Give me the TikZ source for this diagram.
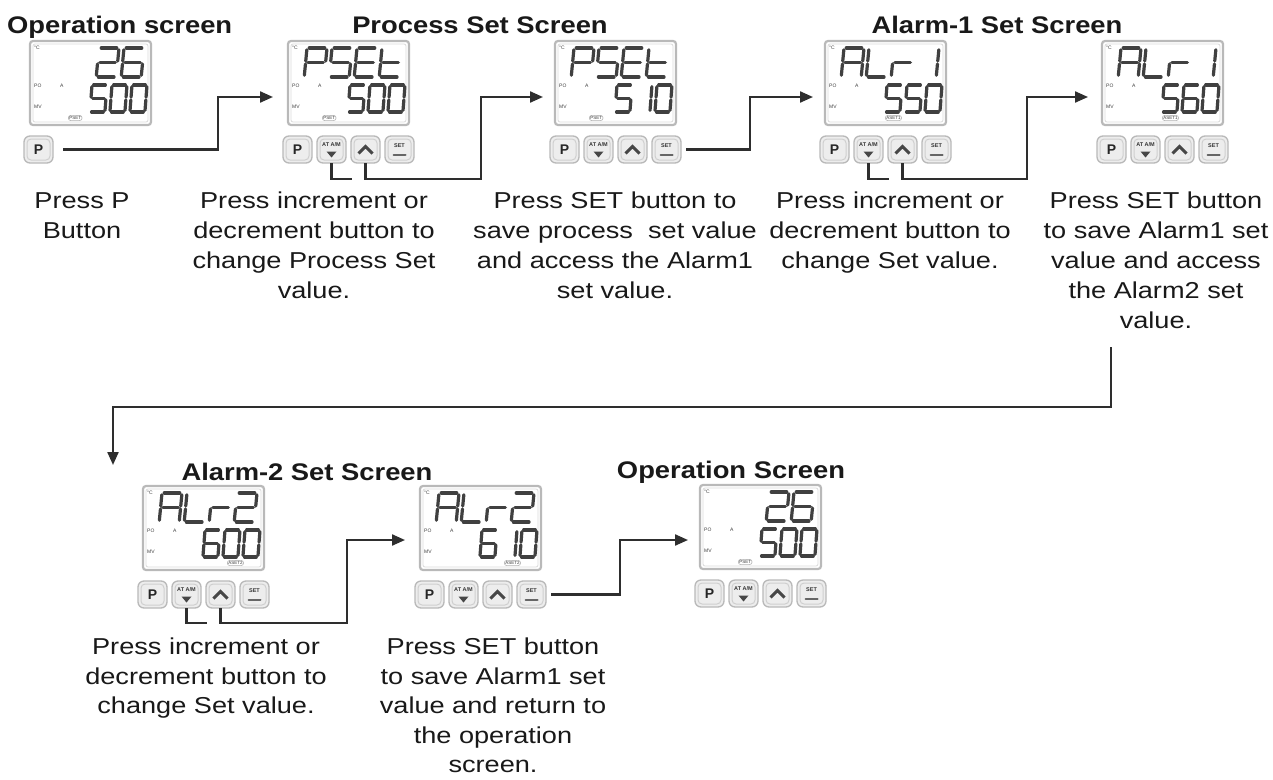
\documentclass[tikz,border=0pt]{standalone}
\usepackage{fontspec}
\setmainfont{Liberation Sans}
\newfontfamily\bodyf[FakeStretch=1.18]{Liberation Sans}
\newfontfamily\titlef[FakeStretch=1.14]{Liberation Sans}
\usetikzlibrary{arrows.meta,calc}

% seven-segment pieces (unit cell, y downward)
\def\sga{(0.11,0)--(0.89,0)}
\def\sgb{(1,0.06)--(1,0.45)}
\def\sgc{(1,0.55)--(1,0.94)}
\def\sgd{(0.11,1)--(0.89,1)}
\def\sge{(0,0.55)--(0,0.94)}
\def\sgf{(0,0.06)--(0,0.45)}
\def\sgg{(0.11,0.5)--(0.89,0.5)}
\def\sgx{(0,0)}
% characters
\def\Dnone{x}
\def\Dzero{a,b,c,d,e,f}
\def\Done{b,c}
\def\Dtwo{a,b,g,e,d}
\def\Dfive{a,f,g,c,d}
\def\Dsix{a,f,g,e,d,c}
\def\DP{a,b,f,g,e}
\def\DE{a,f,g,e,d}
\def\Dt{f,g,e,d}
\def\DA{a,b,c,e,f,g}
\def\DL{f,e,d}
\def\Dr{e,g}

\tikzset{
  lcd/.style={draw=gray!55, line width=2.2pt, rounded corners=3pt, fill=white,
    minimum width=121pt, minimum height=84pt, inner sep=0pt, outer sep=0pt},
  lcdin/.style={draw=gray!28, line width=0.8pt, rounded corners=2pt},
  seg/.style={draw=black!75, line width=3.2pt, line cap=round},
  tinyl/.style={font=\fontsize{5}{5}\selectfont, inner sep=0pt, text=black!75},
  tagbox/.style={draw=gray!60, line width=0.6pt, rounded corners=2.5pt, font=\fontsize{4.5}{4.5}\selectfont, inner sep=1pt, text=black!75},
  btn/.style={draw=gray!55, line width=1.3pt, rounded corners=6pt, fill=gray!14,
    minimum width=29pt, minimum height=27pt, inner sep=0pt, outer sep=0pt},
  btnin/.style={draw=gray!38, line width=1pt, rounded corners=4pt},
  plab/.style={font=\bfseries\fontsize{14}{14}\selectfont, inner sep=0pt, text=black!85},
  blab/.style={font=\bfseries\fontsize{5.5}{5.5}\selectfont, inner sep=0pt, text=black!80},
  trimark/.style={fill=black!72},
  chev/.style={draw=black!72, line width=3pt},
  setbar/.style={draw=black!60, line width=2pt, line cap=round},
  conn/.style={draw=black!82, line width=2.2pt},
  arr/.style={conn, -{Triangle[length=13pt,width=11pt]}},
  title/.style={font=\titlef\bfseries\fontsize{24}{28}\selectfont, inner sep=0pt, text=black!90},
  desc/.style={font=\bodyf\fontsize{23}{30}\selectfont, align=center, inner sep=0pt, anchor=north, text=black!90},
  descb/.style={font=\bodyf\fontsize{23}{29.5}\selectfont, align=center, inner sep=0pt, anchor=north, text=black!90},
}

\newcommand\sdigit[5]{%
  \begin{scope}[shift={(#1,#2)},xscale=#3,yscale=#4,xslant=0.14]
    \foreach \s in #5 {\edef\tmp{\noexpand\draw[seg] \csname sg\s\endcsname;}\tmp}
  \end{scope}}

\newcommand\lcdbox[5]{% name, x, y, tag x, tag
  \node[lcd, anchor=north west] (#1) at (#2,#3) {};
  \draw[lcdin] ($(#1.north west)+(3,3)$) rectangle ($(#1.south east)+(-3,-3)$);
  \node[tinyl, anchor=north west] (#1c) at ($(#1.north west)+(4,5)$) {°C};
  \node[tinyl, anchor=west] (#1po) at ($(#1.north west)+(4,45)$) {PO};
  \node[tinyl, anchor=west] (#1a) at ($(#1.north west)+(30,45)$) {A};
  \node[tinyl, anchor=west] (#1mv) at ($(#1.north west)+(4,66)$) {MV};
  \node[tagbox, anchor=west] (#1tag) at ($(#1.north west)+(#4,77)$) {#5};
}

\newcommand\topd[5]{%
  \begin{scope}[shift={(#1.north west)}]
    \sdigit{19}{7}{20}{29}{#2}
    \sdigit{44}{7}{20}{29}{#3}
    \sdigit{69}{7}{20}{29}{#4}
    \sdigit{94}{7}{20}{29}{#5}
  \end{scope}}

\newcommand\botd[4]{%
  \begin{scope}[shift={(#1.north west)}]
    \sdigit{62}{44}{15}{27}{#2}
    \sdigit{82}{44}{15}{27}{#3}
    \sdigit{102}{44}{15}{27}{#4}
  \end{scope}}

\newcommand\pbutton[2]{% name, position
  \node[btn, anchor=north west] (#1) at #2 {};
  \draw[btnin] ($(#1.north west)+(3,3)$) rectangle ($(#1.south east)+(-3,-3)$);
  \node[plab] (#1l) at (#1) {P};
}

\newcommand\btnrow[1]{%
  \pbutton{#1p}{($(#1.north west)+(-5,95)$)}
  \node[btn, anchor=north west] (#1at) at ($(#1.north west)+(29,95)$) {};
  \node[btn, anchor=north west] (#1up) at ($(#1.north west)+(63,95)$) {};
  \node[btn, anchor=north west] (#1set) at ($(#1.north west)+(97,95)$) {};
  \foreach \b in {at,up,set} {\draw[btnin] ($(#1\b.north west)+(3,3)$) rectangle ($(#1\b.south east)+(-3,-3)$);}
  \node[blab] (#1atl) at ($(#1at.center)+(0,-5)$) {AT A/M};
  \fill[trimark] ($(#1at.center)+(-5,2)$) -- ++(10,0) -- ++(-5,6) -- cycle;
  \draw[chev] ($(#1up.center)+(-7,4)$) -- ++(7,-7) -- ++(7,7);
  \node[blab] (#1setl) at ($(#1set.center)+(0,-4)$) {SET};
  \draw[setbar] ($(#1set.center)+(-6,5)$) -- ++(12,0);
}

\begin{document}
\begin{tikzpicture}[x=1pt,y=-1pt]
\fill[white] (0,0) rectangle (1273,779);
\useasboundingbox (0,0) rectangle (1273,779);

% ---------- titles ----------
\node[title, anchor=base west] (h1) at (7,33) {Operation screen};
\node[title, anchor=base] (h2) at (480,33) {Process Set Screen};
\node[title, anchor=base] (h3) at (997,33) {Alarm-1 Set Screen};
\node[title, anchor=base] (h4) at (307,480) {Alarm-2 Set Screen};
\node[title, anchor=base] (h5) at (731,478) {Operation Screen};

% ---------- screens ----------
\lcdbox{sA}{30}{41}{38}{PSET}
\topd{sA}{\Dnone}{\Dnone}{\Dtwo}{\Dsix}
\botd{sA}{\Dfive}{\Dzero}{\Dzero}
\pbutton{sAp}{($(sA.north west)+(-6,95)$)}

\lcdbox{sB}{288}{41}{34}{PSET}
\topd{sB}{\DP}{\Dfive}{\DE}{\Dt}
\botd{sB}{\Dfive}{\Dzero}{\Dzero}
\btnrow{sB}

\lcdbox{sC}{555}{41}{34}{PSET}
\topd{sC}{\DP}{\Dfive}{\DE}{\Dt}
\botd{sC}{\Dfive}{\Done}{\Dzero}
\btnrow{sC}

\lcdbox{sD}{825}{41}{60}{ASET1}
\topd{sD}{\DA}{\DL}{\Dr}{\Done}
\botd{sD}{\Dfive}{\Dfive}{\Dzero}
\btnrow{sD}

\lcdbox{sE}{1102}{41}{60}{ASET1}
\topd{sE}{\DA}{\DL}{\Dr}{\Done}
\botd{sE}{\Dfive}{\Dsix}{\Dzero}
\btnrow{sE}

\lcdbox{sF}{143}{486}{84}{ASET2}
\topd{sF}{\DA}{\DL}{\Dr}{\Dtwo}
\botd{sF}{\Dsix}{\Dzero}{\Dzero}
\btnrow{sF}

\lcdbox{sG}{420}{486}{84}{ASET2}
\topd{sG}{\DA}{\DL}{\Dr}{\Dtwo}
\botd{sG}{\Dsix}{\Done}{\Dzero}
\btnrow{sG}

\lcdbox{sH}{700}{485}{38}{PSET}
\topd{sH}{\Dnone}{\Dnone}{\Dtwo}{\Dsix}
\botd{sH}{\Dfive}{\Dzero}{\Dzero}
\btnrow{sH}

% ---------- arrival points ----------
\coordinate (inB) at ($(sB.north west)+(-15,56)$);
\coordinate (inC) at ($(sC.north west)+(-12,56)$);
\coordinate (inD) at ($(sD.north west)+(-12,56)$);
\coordinate (inE) at ($(sE.north west)+(-14,56)$);
\coordinate (inG) at ($(sG.north west)+(-15,54)$);
\coordinate (inH) at ($(sH.north west)+(-12,55)$);
\coordinate (lcs) at (1111,347);
\coordinate (lce) at (113,465);

% ---------- connectors ----------
\draw[arr, shorten <=10pt] (sAp.east) -| ([xshift=-55pt]inB) -- (inB);

\draw[conn] (sBat.south) -- ++(0,16) -- ++(20,0);
\draw[arr] (sBup.south) -- ++(0,16) -| ([xshift=-62pt]inC) -- (inC);

\draw[arr, shorten <=5pt] (sCset.east) -| ([xshift=-63pt]inD) -- (inD);

\draw[conn] (sDat.south) -- ++(0,16) -- ++(20,0);
\draw[arr] (sDup.south) -- ++(0,16) -| ([xshift=-61pt]inE) -- (inE);

\draw[arr] (lcs) -- ++(0,60) -| (lce);

\draw[conn] (sFat.south) -- ++(0,15) -- ++(20,0);
\draw[arr] (sFup.south) -- ++(0,15) -| ([xshift=-58pt]inG) -- (inG);

\draw[arr, shorten <=5pt] (sGset.east) -| ([xshift=-68pt]inH) -- (inH);

% ---------- descriptions ----------
\node[desc] (t1) at (82,192) {Press P\\Button};
\node[desc] (t2) at (314,192) {Press increment or\\decrement button to\\change Process Set\\value.};
\node[desc] (t3) at (615,192) {Press SET button to\\save process\ \ set value\\and access the Alarm1\\set value.};
\node[desc] (t4) at (890,192) {Press increment or\\decrement button to\\change Set value.};
\node[desc] (t5) at (1156,192) {Press SET button\\to save Alarm1 set\\value and access\\the Alarm2 set\\value.};
\node[descb] (t6) at (206,638) {Press increment or\\decrement button to\\change Set value.};
\node[descb] (t7) at (493,638) {Press SET button\\to save Alarm1 set\\value and return to\\the operation\\screen.};
\end{tikzpicture}
\end{document}
